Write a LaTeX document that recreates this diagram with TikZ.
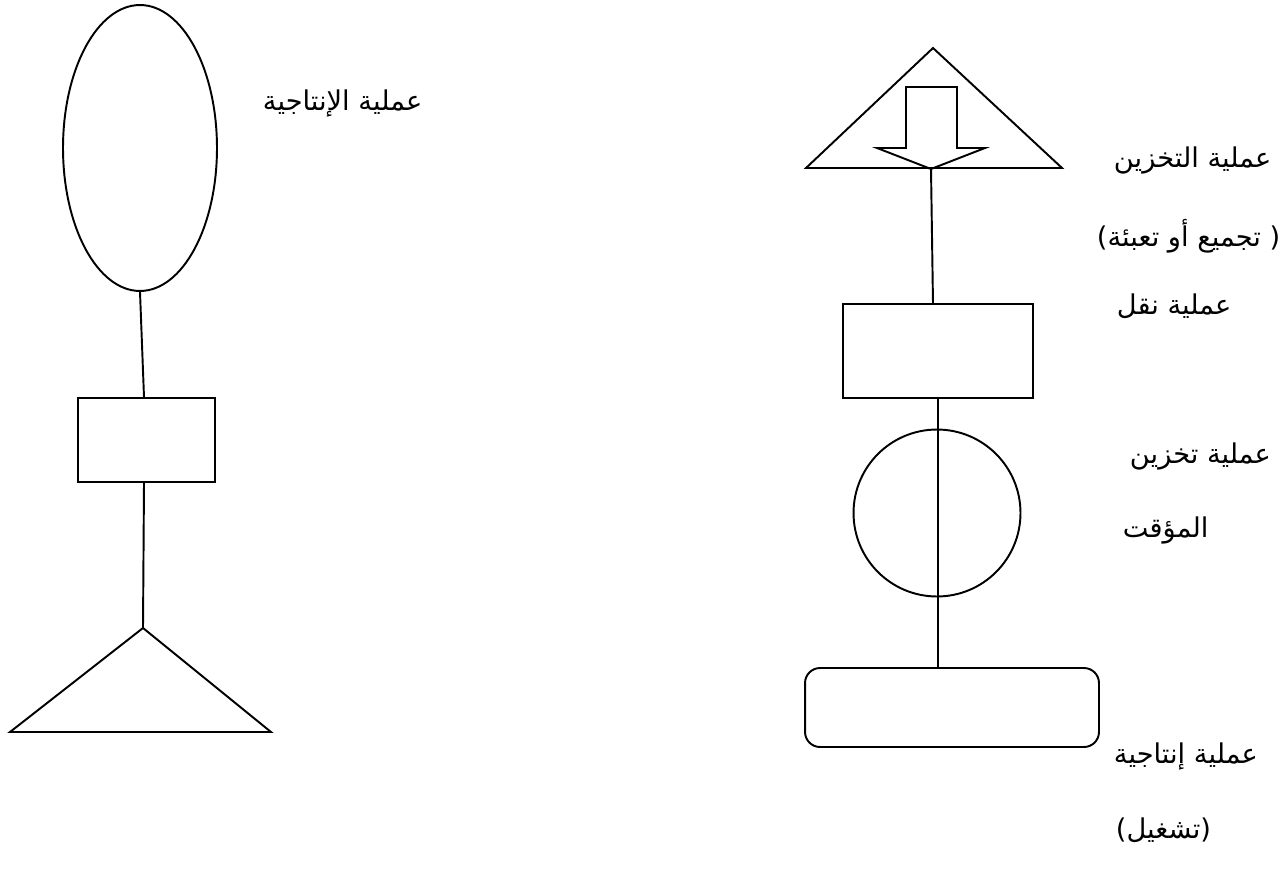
\documentclass[tikz,border=0pt]{standalone}
\usepackage{fontspec}
\newfontfamily\arabicfont[Script=Arabic]{DejaVu Sans}
\newfontfamily\parenfont{DejaVu Sans}
\TeXXeTstate=1
\usetikzlibrary{shapes.geometric}
\newcommand{\lpar}{{\parenfont(}}
\newcommand{\rpar}{{\parenfont)}}
\begin{document}
\begin{tikzpicture}[x=0.02cm,y=-0.02cm,
  line width=1.1pt,
  lbl/.style={anchor=west,inner sep=0pt,font=\arabicfont\fontsize{15.5pt}{18pt}\selectfont},
  boxnode/.style={draw,rectangle,inner sep=0pt}]
\path[use as bounding box] (0,0) rectangle (1287,889);
% left column
\node[draw,ellipse,inner sep=0pt,minimum width=3.08cm,minimum height=5.72cm] (ell) at (140,148) {};
\node[boxnode,minimum width=2.74cm,minimum height=1.68cm] (lrect) at (146.5,440) {};
\coordinate (ltri) at (143,628);
\draw (ltri) -- (271,732) -- (10,732) -- cycle;
\draw (ell.south) -- ([xshift=-0.05cm]lrect.north);
\draw ([xshift=-0.05cm]lrect.south) -- (ltri);
\node[lbl] (t0) at (262,103) {\beginR عملية الإنتاجية\endR};
% right column
\coordinate (rtri) at (933,48);
\draw (rtri) -- (1062,168) -- (806,168) -- cycle;
\coordinate (arrtip) at (931,169);
\draw[line join=miter] (906,87) -- (957,87) -- (957,148) -- (985,148) -- (arrtip) -- (877,148) -- (906,148) -- cycle;
\node[boxnode,minimum width=3.8cm,minimum height=1.88cm] (rrect) at (938,351) {};
\coordinate (rtop) at (933,304);
\draw (arrtip) -- (rtop);
\node[draw,circle,inner sep=0pt,minimum size=3.34cm] (circ) at (937,513) {};
\node[draw,rectangle,rounded corners=0.3cm,inner sep=0pt,minimum width=5.88cm,minimum height=1.58cm] (rbox) at (952,707.5) {};
\draw (rrect.south) -- (rrect.south |- rbox.north);
% right labels
\node[lbl] (t1) at (1113,160) {\beginR عملية التخزين\endR};
\node[lbl] (t2) at (1096,236) {\lpar\beginR تجميع أو تعبئة\endR\ \rpar};
\node[lbl] (t3) at (1116,306) {\beginR عملية نقل\endR};
\node[lbl] (t4) at (1129,456) {\beginR عملية تخزين\endR};
\node[lbl] (t5) at (1122,530) {\beginR المؤقت\endR};
\node[lbl] (t6) at (1113,756) {\beginR عملية إنتاجية\endR};
\node[lbl] (t7) at (1115,830) {\lpar\beginR تشغيل\endR\rpar};
\end{tikzpicture}
\end{document}
